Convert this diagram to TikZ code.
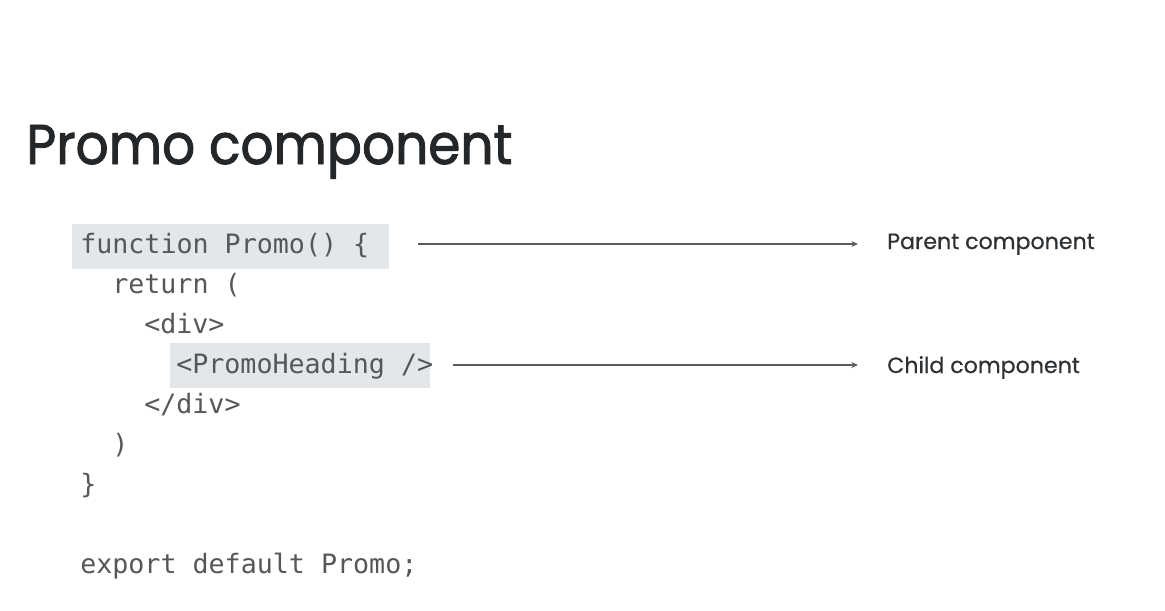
\documentclass[tikz,border=0pt]{standalone}
\usepackage{fontspec}
\setmainfont{Poppins}
\setmonofont{DejaVu Sans Mono}
\newfontfamily\headfont[FakeStretch=0.925, FakeBold=1.6]{Poppins}
\newfontfamily\notefont[FakeBold=0.5]{Poppins}
\usetikzlibrary{arrows.meta}
\definecolor{titlegray}{HTML}{23272A}
\definecolor{notegray}{HTML}{2E3134}
\definecolor{codegray}{HTML}{555758}
\definecolor{hlgray}{HTML}{E4E7EA}
\definecolor{arrowgray}{HTML}{5A5C5E}

\begin{document}
\begin{tikzpicture}[x=0.75pt, y=-0.75pt,
                code/.style={anchor=base west, inner sep=0pt, text=codegray,
                    font=\fontsize{20}{24}\selectfont\ttfamily},
                note/.style={anchor=base west, inner sep=0pt, text=notegray,
                    font=\fontsize{16.6}{20}\notefont},
                pointer/.style={-{Stealth[length=5pt, width=4.5pt]}, line width=1.3pt,
                    draw=arrowgray, shorten >=21.75pt}]

            \useasboundingbox[fill=white] (0,0) rectangle (1165,611);

            % highlighted lines
            \fill[hlgray] (72,224) rectangle (389,269);
            \fill[hlgray] (170,343) rectangle (430,388);

            \node[anchor=base west, inner sep=0pt, text=titlegray,
                font=\fontsize{42}{50}\headfont] (title) at (26,164) {Promo component};

            \node[code] (fnline) at (80,253) {function Promo() \{};
            \node[code] (retline) at (112,293) {return (};
            \node[code] (divopen) at (144,333) {<div>};
            \node[code] (headline) at (176,373) {<PromoHeading />};
            \node[code] (divclose) at (144,413) {</div>};
            \node[code] (retclose) at (112,453) {)};
            \node[code] (fnclose) at (80,493) {\}};
            \node[code] (exportline) at (80,573) {export default Promo;};

            \node[note] (parent) at (887,249) {Parent component};
            \node[note] (child) at (887,373) {Child component};

            \coordinate (parentstart) at (418,244);
            \coordinate (childstart) at (453,365);
            \draw[pointer] (parentstart) -- (parent.west |- parentstart);
            \draw[pointer] (childstart) -- (child.west |- childstart);
        \end{tikzpicture}
\end{document}
